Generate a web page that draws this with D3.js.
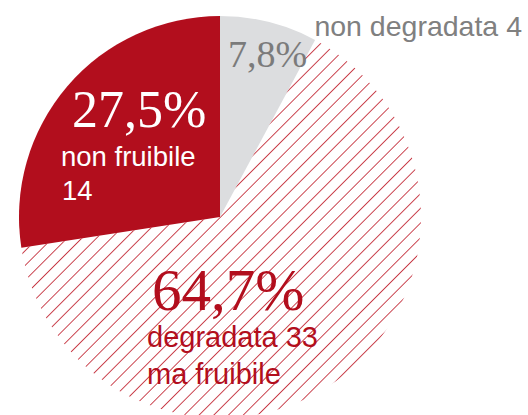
<!DOCTYPE html>
<html>
<head>
<meta charset="utf-8">
<script src="https://cdn.jsdelivr.net/npm/d3@7"></script>
<style>
  body { margin: 0; background: #fff; }
  svg { display: block; }
  .pct { font-family: "Liberation Serif", serif; }
  .lbl { font-family: "Liberation Sans", Arial, sans-serif; }
</style>
</head>
<body>
<div id="chart"></div>
<script>
// values
let categories = ['non degradata', 'degradata ma fruibile', 'non fruibile'];
let counts = [4, 33, 14];
let percents = ['7,8%', '64,7%', '27,5%'];

let width = 528, height = 415;
let cx = 220, cy = 217, radius = 201;

let svg = d3.select('#chart').append('svg')
    .attr('width', width)
    .attr('height', height);

// hatch pattern for the middle slice
let defs = svg.append('defs');
defs.append('pattern')
    .attr('id', 'hatch')
    .attr('patternUnits', 'userSpaceOnUse')
    .attr('width', 10.4)
    .attr('height', 10.4)
    .attr('patternTransform', 'rotate(45)')
    .append('line')
    .attr('x1', 0).attr('y1', 0)
    .attr('x2', 0).attr('y2', 10.4)
    .attr('stroke', '#c22533')
    .attr('stroke-width', 1.7);

let fills = d3.scaleOrdinal()
    .domain(categories)
    .range(['#dcdddf', 'url(#hatch)', '#b20e1d']);

let pie = d3.pie().sort(null).value(d => d.value);
let arc = d3.arc().innerRadius(0).outerRadius(radius);

let data = categories.map((c, i) => ({ key: c, value: counts[i] }));

let g = svg.append('g').attr('transform', `translate(${cx},${cy})`);
g.selectAll('path')
    .data(pie(data))
    .enter()
    .append('path')
    .attr('d', arc)
    .attr('fill', d => fills(d.data.key));

// labels
let labels = [
    { pct: percents[0], px: 228, py: 67, size: 38, color: '#7b7b7b', lsize: 28.5,
      lines: [{ t: 'non degradata ' + counts[0], x: 522, y: 36, anchor: 'end' }] },
    { pct: percents[1], px: 152, py: 310, size: 59, color: '#b20e1d', lsize: 29,
      lines: [{ t: 'degradata ' + counts[1], x: 147, y: 347 }, { t: 'ma fruibile', x: 147, y: 384 }] },
    { pct: percents[2], px: 72, py: 127, size: 52, color: '#ffffff', lsize: 27.5,
      lines: [{ t: 'non fruibile', x: 61, y: 166 }, { t: String(counts[2]), x: 62, y: 200 }] }
];

labels.forEach(function (l, i) {
    svg.append('text')
        .attr('class', 'pct')
        .attr('x', l.px)
        .attr('y', l.py)
        .attr('font-size', l.size)
        .attr('fill', l.color)
        .text(l.pct);
    l.lines.forEach(function (ln) {
        svg.append('text')
            .attr('class', 'lbl')
            .attr('x', ln.x)
            .attr('y', ln.y)
            .attr('text-anchor', ln.anchor || 'start')
            .attr('font-size', l.lsize)
            .attr('fill', i === 0 ? '#808080' : l.color)
            .text(ln.t);
    });
});
</script>
</body>
</html>
